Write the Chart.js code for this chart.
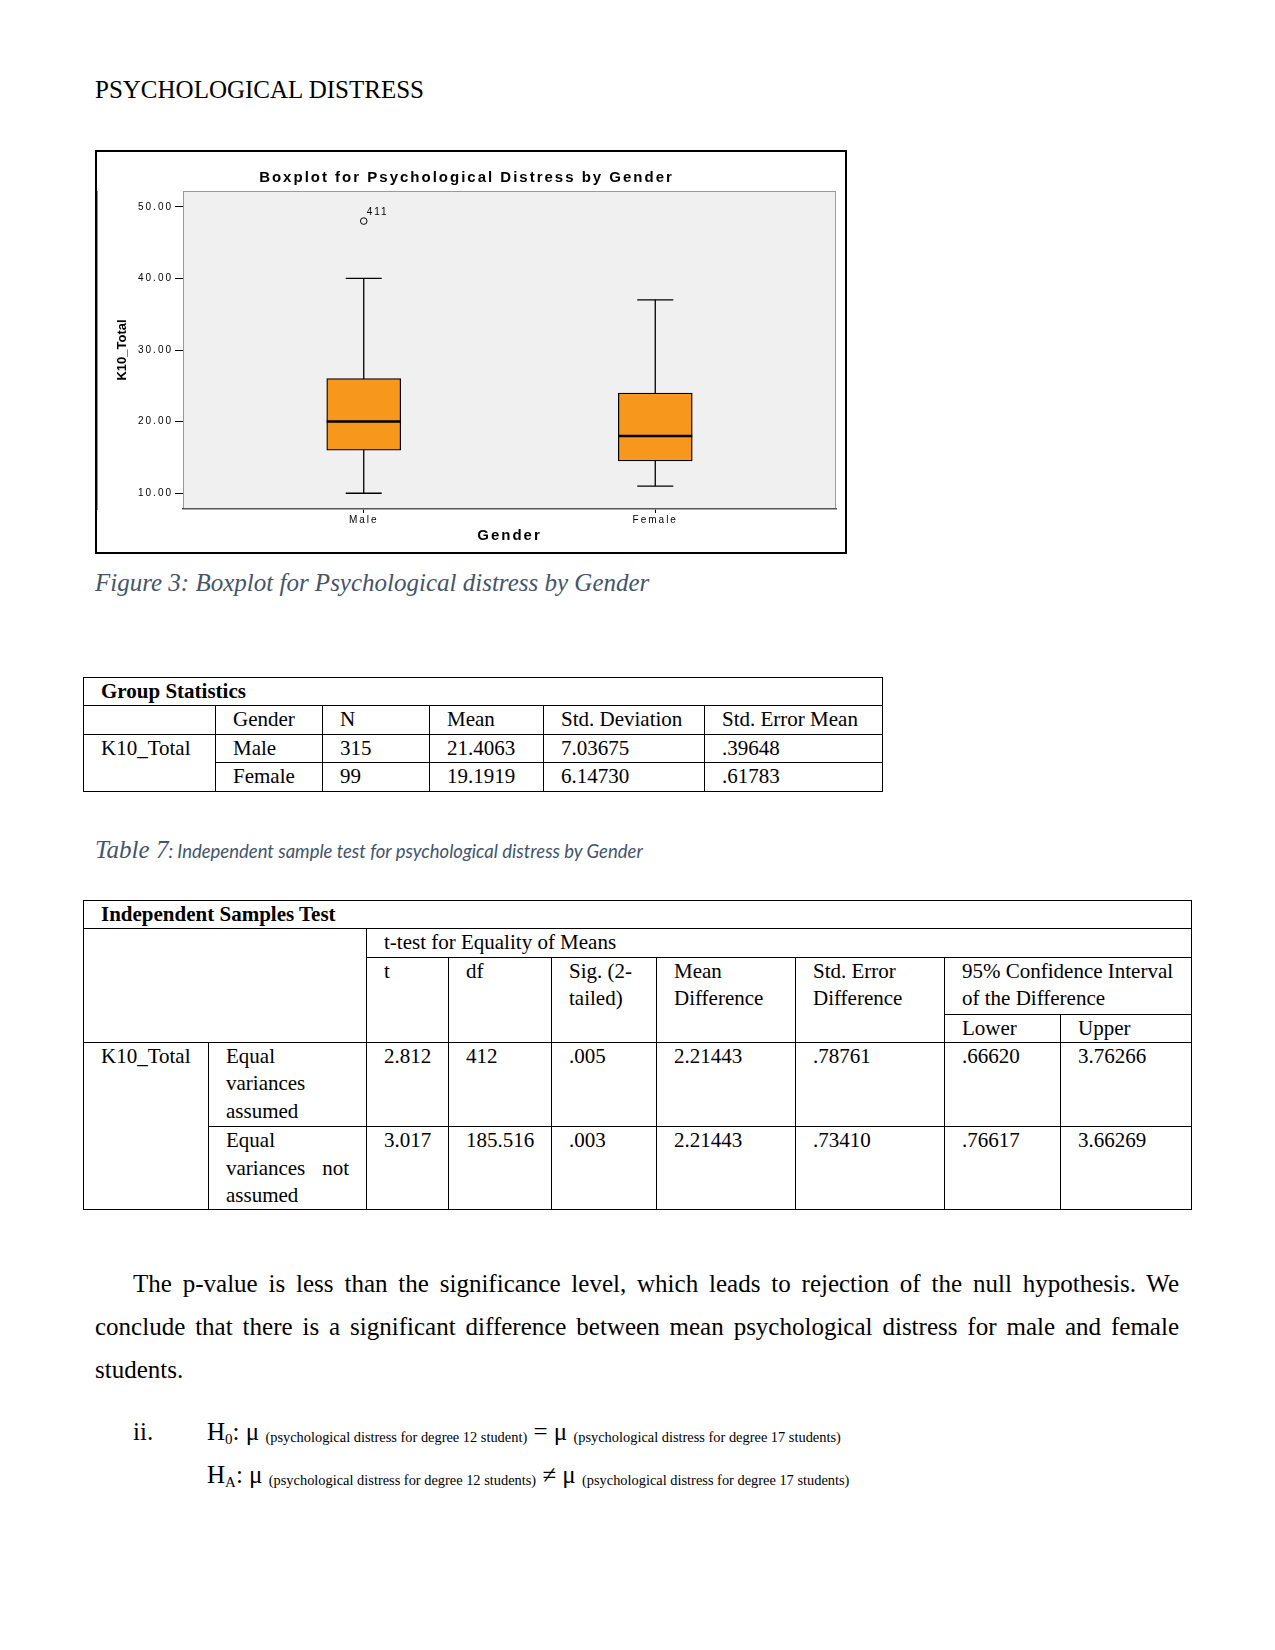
<!DOCTYPE html>
<html>
<head>
<meta charset="utf-8">
<title>Psychological Distress</title>
<script src="https://cdn.jsdelivr.net/npm/chart.js"></script>
<style>
  body { margin: 0; background: #fff; }
  .page { position: relative; width: 1275px; height: 1650px; font-family: 'Liberation Serif', 'Times New Roman', serif; color: #000; }
  .abs { position: absolute; }
  .header { left: 95px; top: 75px; font-size: 25px; line-height: 30px; }
  .chart-frame { left: 95px; top: 150px; width: 752px; height: 404px; border: 2px solid #000; box-sizing: border-box; }
  .chart-box { position: relative; width: 748px; height: 400px; }
  .caption { color: #44546A; font-style: italic; font-size: 25px; line-height: 30px; white-space: nowrap; }
  .caption .small { font-family: Lato, 'Open Sans', sans-serif; font-size: 18.5px; }
  table { border-collapse: collapse; table-layout: fixed; font-size: 21px; line-height: 27.4px; }
  td { border: 1px solid #000; padding: 0 17px; vertical-align: top; white-space: nowrap; }
  td.wrap { white-space: normal; }
  td.justify { white-space: normal; text-align: justify; }
  td.title { font-weight: bold; }
  .para { left: 95px; top: 1262px; width: 1084px; font-size: 25px; line-height: 43px; }
  .para .jl { text-align: justify; text-align-last: justify; }
  .hyp { font-size: 25px; line-height: 30px; white-space: nowrap; }
  .hyp sub { font-size: 15px; vertical-align: -4px; line-height: 0; }
  .hyp .sm { font-size: 14.4px; vertical-align: -2px; line-height: 0; }
</style>
</head>
<body>
<div class="page">
  <div class="abs header">PSYCHOLOGICAL DISTRESS</div>

  <div class="abs chart-frame">
    <div class="chart-box"><canvas id="boxplotChart"></canvas></div>
  </div>

  <div class="abs caption" style="left:95px; top:568px;">Figure 3: Boxplot for Psychological distress by Gender</div>

  <table class="abs" style="left:83px; top:677px; width:799px;">
    <colgroup>
      <col style="width:132px"><col style="width:107px"><col style="width:107px">
      <col style="width:114px"><col style="width:161px"><col style="width:178px">
    </colgroup>
    <tr style="height:28.4px"><td class="title" colspan="6">Group Statistics</td></tr>
    <tr style="height:28.4px"><td></td><td>Gender</td><td>N</td><td>Mean</td><td>Std. Deviation</td><td>Std. Error Mean</td></tr>
    <tr style="height:28.4px"><td rowspan="2">K10_Total</td><td>Male</td><td>315</td><td>21.4063</td><td>7.03675</td><td>.39648</td></tr>
    <tr style="height:28.4px"><td>Female</td><td>99</td><td>19.1919</td><td>6.14730</td><td>.61783</td></tr>
  </table>

  <div class="abs caption" style="left:95px; top:835px;">Table 7<span class="small">: Independent sample test for psychological distress by Gender</span></div>

  <table class="abs" style="left:83px; top:900px; width:1108px;">
    <colgroup>
      <col style="width:125px"><col style="width:158px"><col style="width:82px">
      <col style="width:103px"><col style="width:105px"><col style="width:139px">
      <col style="width:149px"><col style="width:116px"><col style="width:131px">
    </colgroup>
    <tr style="height:28.4px"><td class="title" colspan="9">Independent Samples Test</td></tr>
    <tr style="height:28.4px"><td colspan="2" rowspan="3"></td><td colspan="7">t-test for Equality of Means</td></tr>
    <tr style="height:56.8px">
      <td rowspan="2">t</td><td rowspan="2">df</td><td class="wrap" rowspan="2">Sig. (2-tailed)</td>
      <td class="wrap" rowspan="2">Mean Difference</td><td class="wrap" rowspan="2">Std. Error Difference</td>
      <td class="wrap" colspan="2">95% Confidence Interval of the Difference</td>
    </tr>
    <tr style="height:28.4px"><td>Lower</td><td>Upper</td></tr>
    <tr style="height:84.2px">
      <td rowspan="2">K10_Total</td><td class="wrap">Equal variances assumed</td>
      <td>2.812</td><td>412</td><td>.005</td><td>2.21443</td><td>.78761</td><td>.66620</td><td>3.76266</td>
    </tr>
    <tr style="height:83.1px">
      <td class="justify">Equal variances not assumed</td>
      <td>3.017</td><td>185.516</td><td>.003</td><td>2.21443</td><td>.73410</td><td>.76617</td><td>3.66269</td>
    </tr>
  </table>

  <div class="abs para">
    <div class="jl" style="text-indent:38px">The p-value is less than the significance level, which leads to rejection of the null hypothesis. We</div>
    <div class="jl">conclude that there is a significant difference between mean psychological distress for male and female</div>
    <div>students.</div>
  </div>

  <div class="abs hyp" style="left:133px; top:1417px;">ii.</div>
  <div class="abs hyp" style="left:207px; top:1417px;">H<sub>0</sub>: μ <span class="sm">(psychological distress for degree 12 student)</span> = μ <span class="sm">(psychological distress for degree 17 students)</span></div>
  <div class="abs hyp" style="left:207px; top:1460px;">H<sub>A</sub>: μ <span class="sm">(psychological distress for degree 12 students)</span> ≠ μ <span class="sm">(psychological distress for degree 17 students)</span></div>
</div>

<script>
  // values
  const categories = ['Male', 'Female'];
  const whiskerLow = [10, 11];
  const quartile1 = [16, 14.5];
  const medians = [20, 18];
  const quartile3 = [26, 24];
  const whiskerHigh = [40, 37];
  const outlierGroup = [0];
  const outlierValues = [48];
  const outlierIds = ['411'];
  const yTickValues = [10, 20, 30, 40, 50];

  const chartFont = "'Liberation Sans', Arial, sans-serif";
  const boxColor = '#F7981D';

  // grey plot panel, spaced-out SPSS lettering and the case number next to the outlier
  const spssLook = {
    id: 'spssLook',
    beforeDraw(chart) {
        const { ctx, chartArea: a } = chart;
        ctx.save();
        ctx.fillStyle = '#F0F0F0';
        ctx.fillRect(a.left, a.top, a.width, a.height);
        ctx.strokeStyle = '#9a9a9a';
        ctx.lineWidth = 1;
        ctx.strokeRect(a.left + 0.5, a.top + 0.5, a.width - 1, a.height - 1);
        ctx.restore();
        ctx.letterSpacing = '2px';
    },
    afterDatasetsDraw(chart) {
        const ctx = chart.ctx;
        const idx = chart.data.datasets.findIndex(d => d.label === 'Outliers');
        const meta = chart.getDatasetMeta(idx);
        ctx.save();
        ctx.font = '10px ' + chartFont;
        ctx.fillStyle = '#000';
        ctx.textBaseline = 'middle';
        meta.data.forEach((pt, i) => ctx.fillText(outlierIds[i], pt.x + 3, pt.y - 9));
        ctx.restore();
        // the y axis title comes after this and is not spaced
        ctx.letterSpacing = '0px';
    }
  };

  const ctx = document.getElementById('boxplotChart').getContext('2d');
  new Chart(ctx, {
    type: 'bar',
    data: {
        datasets: [
            {
                type: 'scatter',
                label: 'Medians',
                data: categories.map((c, i) => ({ x: i, y: medians[i] })),
                pointStyle: 'line',
                pointRadius: 37,
                pointBorderColor: '#000',
                pointBorderWidth: 2.5,
                order: 1
            },
            {
                type: 'scatter',
                label: 'Whisker caps',
                data: categories.flatMap((c, i) => [{ x: i, y: whiskerLow[i] }, { x: i, y: whiskerHigh[i] }]),
                pointStyle: 'line',
                pointRadius: 18,
                pointBorderColor: '#000',
                pointBorderWidth: 1.3,
                order: 1
            },
            {
                type: 'scatter',
                label: 'Outliers',
                data: outlierValues.map((v, i) => ({ x: outlierGroup[i], y: v })),
                pointStyle: 'circle',
                pointRadius: 3.3,
                pointBackgroundColor: 'rgba(0,0,0,0)',
                pointBorderColor: '#000',
                pointBorderWidth: 1,
                order: 1
            },
            {
                type: 'bar',
                label: 'Boxes',
                data: categories.map((c, i) => ({ x: i, y: [quartile1[i], quartile3[i]] })),
                backgroundColor: boxColor,
                borderColor: '#000',
                borderWidth: 1.3,
                borderSkipped: false,
                barThickness: 74,
                order: 2
            },
            ...categories.map((c, i) => ({
                type: 'line',
                label: 'Whisker ' + c,
                data: [{ x: i, y: whiskerLow[i] }, { x: i, y: whiskerHigh[i] }],
                borderColor: '#000',
                borderWidth: 1.3,
                pointRadius: 0,
                order: 3
            }))
        ]
    },
    options: {
        responsive: true,
        maintainAspectRatio: false,
        animation: false,
        // the wide median markers would otherwise push the plot in from the right
        layout: { autoPadding: false, padding: { top: 0, right: 9, bottom: 0, left: 0 } },
        plugins: {
            legend: { display: false },
            tooltip: { enabled: false },
            title: {
                display: true,
                text: 'Boxplot for Psychological Distress by Gender',
                color: '#000',
                font: { family: chartFont, size: 15, weight: 'bold' },
                padding: { top: 17, bottom: 4 }
            }
        },
        scales: {
            x: {
                type: 'linear',
                min: -0.62,
                max: 1.62,
                offset: false,
                afterBuildTicks: axis => { axis.ticks = categories.map((c, i) => ({ value: i })); },
                afterFit: axis => {
                    axis.height = 43;
                    axis.paddingLeft = 0;
                    axis.paddingRight = 0;
                },
                ticks: {
                    callback: v => categories[v],
                    color: '#000',
                    font: { family: chartFont, size: 10 },
                    padding: 1,
                    maxRotation: 0,
                    autoSkip: false
                },
                grid: { offset: false, drawOnChartArea: false, drawTicks: true, tickLength: 4, color: '#000' },
                border: { color: '#555', width: 1.5 },
                title: {
                    display: true,
                    text: 'Gender',
                    color: '#000',
                    font: { family: chartFont, size: 15, weight: 'bold' },
                    padding: { top: 0, bottom: 7 }
                }
            },
            y: {
                min: 7.8,
                max: 52.2,
                afterBuildTicks: axis => { axis.ticks = yTickValues.map(v => ({ value: v })); },
                afterFit: axis => {
                    axis.width = 86;
                    axis.paddingTop = 0;
                    axis.paddingBottom = 0;
                },
                ticks: {
                    callback: v => v.toFixed(2),
                    color: '#000',
                    font: { family: chartFont, size: 10 },
                    padding: 2
                },
                grid: { drawOnChartArea: false, drawTicks: true, tickLength: 8, color: '#000', z: 1 },
                border: { color: '#222', width: 1 },
                title: {
                    display: true,
                    text: 'K10_Total',
                    color: '#000',
                    font: { family: "'Liberation Sans Narrow', " + chartFont, size: 13, weight: 'bold' },
                    padding: { top: 18, bottom: 0 }
                }
            }
        }
    },
    plugins: [spssLook]
  });
</script>
</body>
</html>
